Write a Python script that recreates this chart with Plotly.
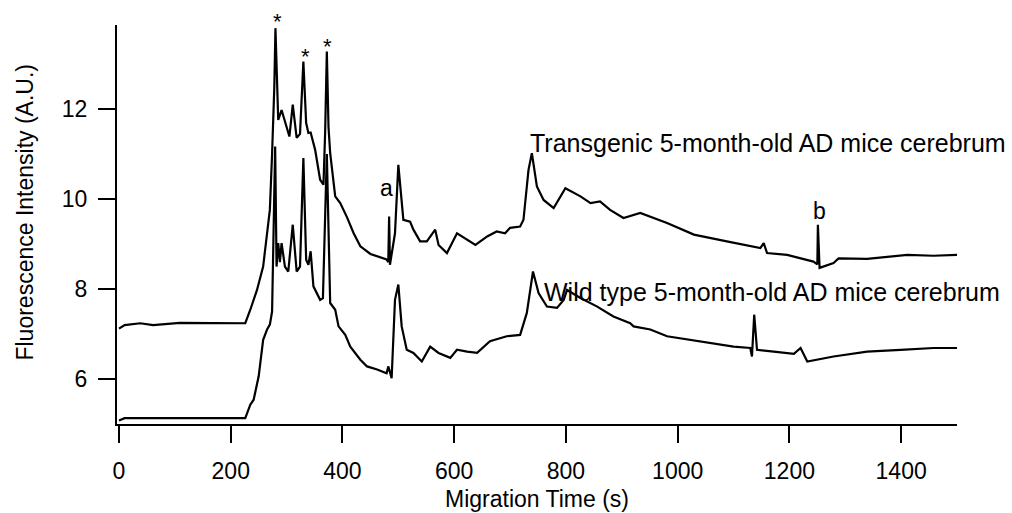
import plotly.graph_objects as go

# Electropherogram traces: migration time (s) and fluorescence intensity (A.U.)
transgenic_time = [0, 10, 38, 61, 109, 181, 226, 235, 247, 258, 265, 270, 274, 278, 280, 283,
                   285, 291, 297, 305, 311, 318, 324, 330, 335, 339, 343, 351, 360, 366, 369,
                   372, 375, 378, 387, 396, 408, 420, 432, 450, 479, 482, 483.5, 485, 494,
                   500, 509, 521, 527, 539, 551, 566, 572, 587, 605, 623, 638, 659, 676,
                   691, 700, 718, 724, 733, 739, 748, 760, 778, 793, 799, 826, 844, 861,
                   879, 903, 933, 981, 1029, 1088, 1148, 1154, 1160, 1196, 1243, 1250,
                   1251, 1254, 1279, 1288, 1339, 1411, 1458, 1500]
transgenic_signal = [7.12, 7.20, 7.24, 7.20, 7.25, 7.24, 7.24, 7.54, 7.98, 8.50, 9.17, 9.76, 11.0,
                     12.5, 13.8, 12.5, 11.76, 11.98, 11.70, 11.39, 12.10, 11.36, 11.45, 13.06,
                     11.69, 11.47, 11.48, 11.10, 10.43, 10.32, 11.50, 13.28, 11.60, 11.02,
                     10.06, 9.91, 9.60, 9.24, 8.95, 8.78, 8.66, 8.60, 9.61, 8.54, 9.24, 10.76,
                     9.54, 9.50, 9.32, 9.06, 9.06, 9.32, 8.98, 8.80, 9.24, 9.10, 8.98, 9.17,
                     9.28, 9.24, 9.36, 9.39, 9.54, 10.65, 11.02, 10.28, 9.98, 9.80, 10.13,
                     10.24, 10.06, 9.91, 9.95, 9.76, 9.58, 9.69, 9.47, 9.21, 9.06, 8.91, 9.02,
                     8.80, 8.76, 8.61, 8.55, 9.43, 8.47, 8.58, 8.68, 8.67, 8.76, 8.74, 8.76]

wildtype_time = [0, 10, 100, 226, 235, 241, 250, 258, 265, 270, 274, 277, 279.5, 282, 285, 288,
                 291, 297, 303, 311, 318, 324, 330, 335, 339, 343, 348, 360, 365, 372, 378,
                 387, 393, 405, 414, 432, 444, 462, 479, 482, 488, 494, 500, 506, 515, 527,
                 542, 557, 572, 593, 605, 623, 641, 664, 694, 718, 730, 741, 751, 766, 784,
                 796, 802, 826, 856, 885, 915, 921, 951, 981, 1041, 1100, 1130, 1133, 1137,
                 1142, 1172, 1208, 1220, 1232, 1279, 1339, 1399, 1458, 1500]
wildtype_signal = [5.08, 5.13, 5.13, 5.13, 5.43, 5.54, 6.06, 6.87, 7.10, 7.21, 7.50, 9.50, 11.17,
                   8.50, 9.02, 8.60, 9.02, 8.50, 8.39, 9.43, 8.39, 8.50, 10.91, 8.65, 8.54,
                   8.84, 8.06, 7.76, 7.80, 11.0, 7.69, 7.54, 7.17, 6.98, 6.72, 6.43, 6.28,
                   6.21, 6.13, 6.28, 6.02, 7.76, 8.10, 7.17, 6.65, 6.58, 6.39, 6.72, 6.58,
                   6.47, 6.65, 6.61, 6.58, 6.84, 6.95, 6.98, 7.47, 8.39, 7.91, 7.61, 7.58,
                   7.76, 7.98, 7.80, 7.61, 7.39, 7.24, 7.17, 7.10, 6.95, 6.84, 6.72, 6.69,
                   6.50, 7.43, 6.65, 6.61, 6.56, 6.69, 6.39, 6.50, 6.61, 6.65, 6.69, 6.69]

x_ticks = [0, 200, 400, 600, 800, 1000, 1200, 1400]
y_ticks = [6, 8, 10, 12]

# Trace labels, peak markers and their positions (time, intensity)
trace_labels = ["Transgenic 5-month-old AD mice cerebrum", "Wild type 5-month-old AD mice cerebrum"]
trace_label_pos = [(732, 11.25), (757, 7.94)]
peak_letters = ["a", "b"]
peak_letter_pos = [(478, 10.25), (1254, 9.74)]
# asterisks over the three main peaks: (time, pixel offset above the plot top)
star_pos = [(283, 4), (333, -31), (372.5, -21)]

FONT = "Liberation Sans, Arial, sans-serif"
Y_RANGE = [5.0, 13.87]

fig = go.Figure()
for t, s in [(transgenic_time, transgenic_signal), (wildtype_time, wildtype_signal)]:
    fig.add_trace(go.Scatter(x=t, y=s, mode="lines",
                             line=dict(color="black", width=2.2),
                             showlegend=False, hoverinfo="skip"))

annotations = []
for text, (tx, ty) in zip(trace_labels, trace_label_pos):
    annotations.append(dict(x=tx, y=ty, xref="x", yref="y", text=text, showarrow=False,
                            xanchor="left", yanchor="middle",
                            font=dict(family=FONT, size=25, color="black")))
for text, (tx, ty) in zip(peak_letters, peak_letter_pos):
    annotations.append(dict(x=tx, y=ty, xref="x", yref="y", text=text, showarrow=False,
                            xanchor="center", yanchor="middle",
                            font=dict(family=FONT, size=23, color="black")))
for tx, shift in star_pos:
    annotations.append(dict(x=tx, y=1.0, xref="x", yref="paper", text="*", showarrow=False,
                            xanchor="center", yanchor="middle", yshift=shift,
                            font=dict(family=FONT, size=22, color="black")))

# Axis titles
annotations.append(dict(x=0.5, y=-0.188, xref="paper", yref="paper", text="Migration Time (s)",
                        showarrow=False, xanchor="center", yanchor="middle",
                        font=dict(family=FONT, size=23, color="black")))
annotations.append(dict(x=-0.1095, y=0.53, xref="paper", yref="paper",
                        text="Fluorescence Intensity (A.U.)", textangle=-90,
                        showarrow=False, xanchor="center", yanchor="middle",
                        font=dict(family=FONT, size=23, color="black")))

axis_common = dict(showgrid=False, zeroline=False, showline=True, linecolor="black",
                   linewidth=2, ticks="outside", ticklen=17, tickwidth=2, tickcolor="black",
                   tickfont=dict(family=FONT, size=23, color="black"))

fig.update_layout(
    width=1012, height=513,
    margin=dict(l=117, r=55, t=25, b=89),
    paper_bgcolor="white", plot_bgcolor="white",
    xaxis=dict(range=[-3.6, 1500], tickvals=x_ticks, ticklabelstandoff=8, **axis_common),
    yaxis=dict(range=Y_RANGE, tickvals=y_ticks, ticklabelstandoff=6, **axis_common),
    annotations=annotations,
)

fig.write_html("out.html")
